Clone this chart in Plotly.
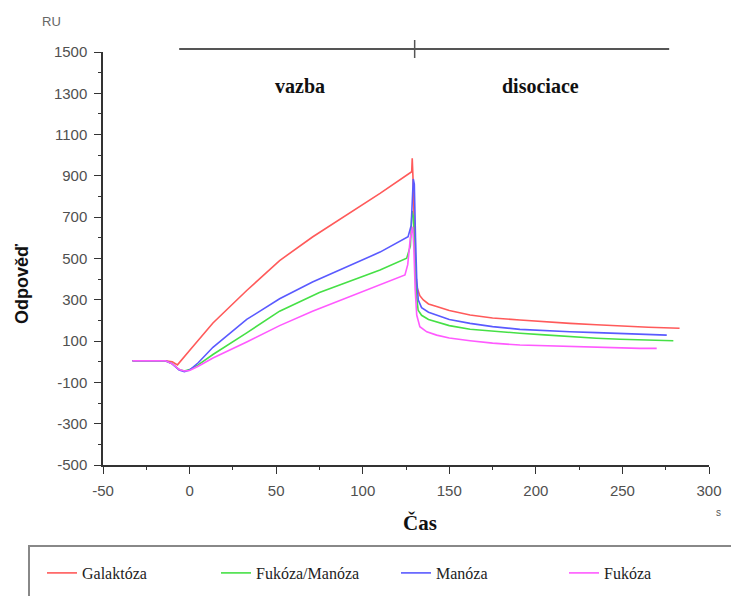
import plotly.graph_objects as go

# ---- data ----
series_names = ["Galaktóza", "Fukóza/Manóza", "Manóza", "Fukóza"]
series_colors = ["#ff5a5a", "#46e046", "#5a5aff", "#ff5aff"]

gal_x = [-33, -14, -10, -7, 0, 13.5, 33, 52, 71, 91, 110, 128.3, 128.6, 129.0, 129.6, 130.3, 131.2, 133, 135, 138,
         142.7, 150, 162, 175, 190.8, 205, 219.7, 235, 248.6, 265, 283]
gal_y = [5, 5, 0, -15, 55, 188, 345, 490, 604, 711, 815, 920, 985, 900, 700, 500, 364, 320, 299, 280,
         267, 248, 226, 212, 202, 193, 186, 179, 173, 167, 162]

fm_x = [-33, -14, -10, -6, -3, 0, 5, 13.5, 33, 52, 75, 100, 110, 125.4, 127.5, 128.5, 129.3, 130.2, 131, 132, 134,
        138, 142.7, 150, 162, 175, 190.8, 205, 219.7, 235, 248.6, 264, 279.4]
fm_y = [5, 5, -10, -38, -45, -38, -15, 35, 140, 245, 335, 411, 444, 501, 560, 730, 700, 500, 330, 250, 225,
        205, 194, 175, 157, 147, 138, 130, 121, 114, 109, 105, 102]

man_x = [-33, -14, -10, -6, -3, 0, 5, 13.5, 33, 52, 71, 91, 110, 126.2, 128, 129.2, 129.8, 130.5, 131.2, 132.1, 134,
         138, 142.7, 150, 162, 175, 190.8, 205, 219.7, 235, 248.6, 262, 275.6]
man_y = [5, 5, -10, -40, -48, -40, -5, 70, 205, 305, 386, 459, 531, 606, 660, 885, 860, 600, 400, 299, 262,
         240, 226, 205, 186, 170, 157, 150, 145, 141, 137, 133, 129]

fuk_x = [-33, -14, -10, -6, -3, 0, 5, 13.5, 33, 52, 71, 91, 110, 124.4, 126, 127.5, 128.8, 129.5, 130.3, 131.2, 133,
         137, 142.7, 150, 162, 175, 190.8, 205, 219.7, 235, 248.6, 260, 269.8]
fuk_y = [5, 5, -10, -38, -45, -42, -22, 18, 96, 175, 245, 310, 375, 420, 470, 600, 654, 560, 350, 226, 170,
         145, 129, 115, 102, 90, 81, 77, 73, 69, 65, 65, 65]

series_x = [gal_x, fm_x, man_x, fuk_x]
series_y = [gal_y, fm_y, man_y, fuk_y]

x_tickvals = [-50, 0, 50, 100, 150, 200, 250, 300]
x_ticktext = ["-50", "0", "50", "100", "150", "200", "250", "300"]
y_tickvals = [-500, -300, -100, 100, 300, 500, 700, 900, 1100, 1300, 1500]
y_ticktext = ["-500", "-300", "-100", "100", "300", "500", "700", "900", "1100", "1300", "1500"]

phase_start, phase_switch, phase_end = -6, 130, 277
phase_labels = ["vazba", "disociace"]

# ---- layout geometry ----
W, H = 739, 596
OFF = 8                      # page body margin of the html
L, T = 95, 44                # plot area at page x 103..709, page y 52..465
PW, PH = 606, 413
R, B = W - L - PW, H - T - PH


def px(page_x):
    return (page_x - OFF - L) / PW


def py(page_y):
    return (T + PH - (page_y - OFF)) / PH


legend_keys = ["legend", "legend2", "legend3", "legend4"]
legend_line_starts = [47, 221, 401, 569]

fig = go.Figure()
for name, color, xs, ys, lk in zip(series_names, series_colors, series_x, series_y, legend_keys):
    fig.add_trace(go.Scatter(x=xs, y=ys, mode="lines", name=name, legend=lk,
                             line=dict(color=color, width=1.6)))

axis_common = dict(showline=True, linecolor="#333333", linewidth=1.5, showgrid=False, zeroline=False,
                   ticks="outside", ticklen=7, tickwidth=1.3, tickcolor="#333333",
                   tickfont=dict(family="Liberation Sans", size=15, color="#505050"))

fig.update_xaxes(range=[-50, 300], tickvals=x_tickvals, ticktext=x_ticktext,
                 minor=dict(tickvals=[-25, 25, 75, 125, 175, 225, 275], ticks="outside", ticklen=3,
                            tickcolor="#333333"),
                 ticklabelstandoff=4, **axis_common)
fig.update_yaxes(range=[-500, 1500], tickvals=y_tickvals, ticktext=y_ticktext,
                 minor=dict(tickvals=[-400, -200, 0, 200, 400, 600, 800, 1000, 1200, 1400], ticks="outside",
                            ticklen=3, tickcolor="#333333"),
                 ticklabelstandoff=4, **axis_common)

shapes = [
    dict(type="line", xref="x", yref="paper", x0=phase_start, x1=phase_end, y0=py(49), y1=py(49),
         line=dict(color="#555555", width=2)),
    dict(type="line", xref="x", yref="paper", x0=phase_switch, x1=phase_switch, y0=py(40), y1=py(58),
         line=dict(color="#555555", width=1.5)),
    dict(type="rect", xref="paper", yref="paper", x0=px(29), x1=px(770), y0=py(546), y1=py(640),
         line=dict(color="#888888", width=2), fillcolor="rgba(0,0,0,0)"),
]


def note(text, x, y, size, family="Liberation Sans", color="#111111", angle=0):
    return dict(text=text, x=px(x), y=py(y), xref="paper", yref="paper", showarrow=False,
                xanchor="center", yanchor="middle", textangle=angle,
                font=dict(family=family, size=size, color=color))


annotations = [
    note("RU", 51, 22, 13, color="#666666"),
    note("<b>Odpověď</b>", 22, 284, 18, angle=-90),
    note("<b>Čas</b>", 420, 523, 21, family="Liberation Serif"),
    note("s", 718, 512, 10, color="#555555"),
    note("<b>" + phase_labels[0] + "</b>", 300, 86, 20, family="Liberation Serif"),
    note("<b>" + phase_labels[1] + "</b>", 540, 86, 20, family="Liberation Serif"),
]

legend_style = dict(orientation="h", xanchor="left", yanchor="middle", y=py(573),
                    bgcolor="rgba(0,0,0,0)", borderwidth=0, itemwidth=30,
                    font=dict(family="Liberation Serif", size=16, color="#222222"))
legend_layout = {lk: dict(x=px(ls - 5), **legend_style) for lk, ls in zip(legend_keys, legend_line_starts)}

fig.update_layout(
    width=W, height=H,
    margin=dict(l=L, r=R, t=T, b=B, autoexpand=False),
    paper_bgcolor="white", plot_bgcolor="white",
    shapes=shapes, annotations=annotations,
    showlegend=True,
    **legend_layout,
)

fig.write_html("out.html")
